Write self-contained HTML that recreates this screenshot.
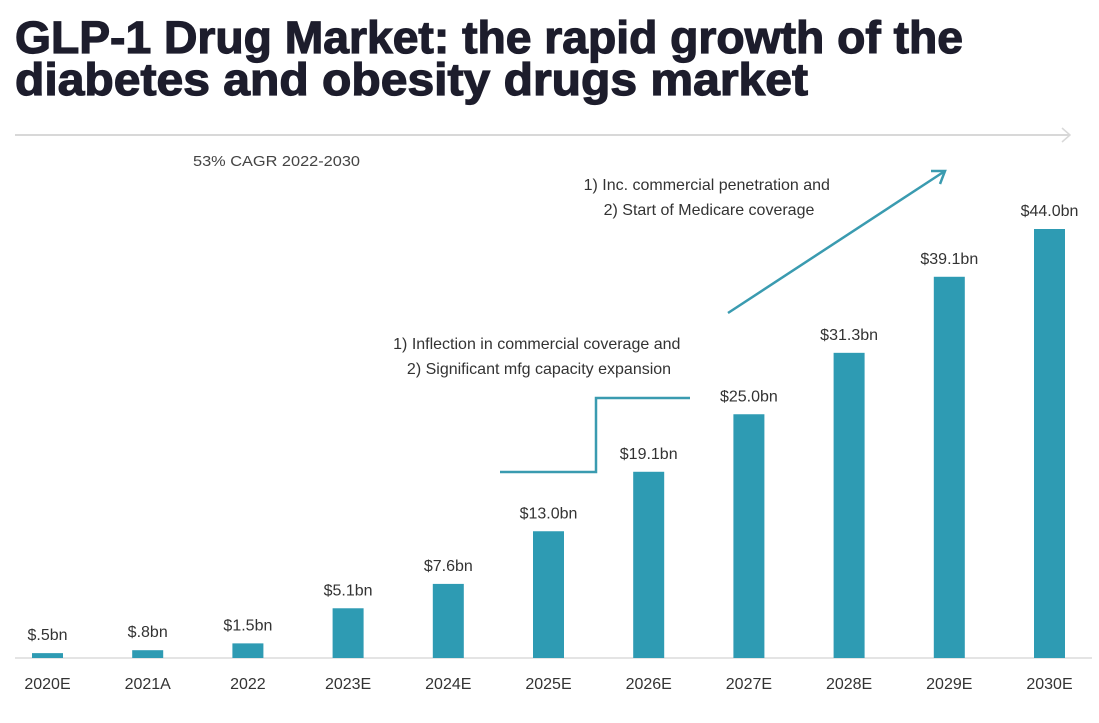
<!DOCTYPE html>
<html><head><meta charset="utf-8"><style>
html,body{margin:0;padding:0;background:#fff;width:1099px;height:723px;overflow:hidden}
svg{display:block}
text{font-family:"Liberation Sans",sans-serif}
</style></head><body>
<svg id="chart" width="1099" height="723" viewBox="0 0 1099 723">
  <text x="15" y="53" font-size="45" font-weight="bold" fill="#1d1d2c" stroke="#1d1d2c" stroke-width="1.2" textLength="948" lengthAdjust="spacingAndGlyphs">GLP-1 Drug Market: the rapid growth of the</text>
  <text x="15" y="95" font-size="45" font-weight="bold" fill="#1d1d2c" stroke="#1d1d2c" stroke-width="1.2" textLength="793" lengthAdjust="spacingAndGlyphs">diabetes and obesity drugs market</text>
  <g>
    <line x1="15" y1="135" x2="1070" y2="135" stroke="#d8d8d8" stroke-width="2"/>
    <polyline points="1062,128 1070,135 1062,142" fill="none" stroke="#d8d8d8" stroke-width="1.5"/>
  </g>
  <text x="193" y="166" font-size="15" fill="#444" textLength="167" lengthAdjust="spacingAndGlyphs">53% CAGR 2022-2030</text>
  <line x1="15" y1="658" x2="1092" y2="658" stroke="#dcdcdc" stroke-width="1.5"/>
  <g id="bars"></g>
  <g>
    <polyline points="500,472 596,472 596,398 690,398" fill="none" stroke="#3a9bb0" stroke-width="2.5"/>
  </g>
  <text text-anchor="middle" font-size="16" fill="#333">
    <tspan x="539" y="349">1) Inflection in commercial coverage and</tspan>
    <tspan x="539" y="374">2) Significant mfg capacity expansion</tspan>
  </text>
  <g>
    <line x1="728" y1="313" x2="945" y2="171" stroke="#3a9bb0" stroke-width="2.5"/>
    <polyline points="931,171 945,171 940,184" fill="none" stroke="#3a9bb0" stroke-width="2.5"/>
  </g>
  <text text-anchor="middle" font-size="16" fill="#333">
    <tspan x="709" y="190">1) Inc. commercial penetration and</tspan>
    <tspan x="709" y="215">2) Start of Medicare coverage</tspan>
  </text>
</svg>
<script>
const categories = ["2020E","2021A","2022","2023E","2024E","2025E","2026E","2027E","2028E","2029E","2030E"];
const values = [0.5,0.8,1.5,5.1,7.6,13.0,19.1,25.0,31.3,39.1,44.0];
const valueLabels = ["$.5bn","$.8bn","$1.5bn","$5.1bn","$7.6bn","$13.0bn","$19.1bn","$25.0bn","$31.3bn","$39.1bn","$44.0bn"];

const NS = "http://www.w3.org/2000/svg";
const baseY = 658, pxPerBn = 9.75, x0 = 47.5, step = 100.2, bw = 31;
const xPos = i => x0 + i * step;
const yPos = v => baseY - v * pxPerBn;
const g = document.getElementById("bars");
categories.forEach((c, i) => {
  const cx = xPos(i), top = yPos(values[i]);
  const r = document.createElementNS(NS, "rect");
  r.setAttribute("x", cx - bw / 2);
  r.setAttribute("y", top);
  r.setAttribute("width", bw);
  r.setAttribute("height", baseY - top);
  r.setAttribute("fill", "#2e9bb3");
  
  
  g.appendChild(r);
  const t = document.createElementNS(NS, "text");
  t.setAttribute("x", cx);
  t.setAttribute("y", top - 13);
  t.setAttribute("text-anchor", "middle");
  t.setAttribute("font-size", "16");
  t.setAttribute("fill", "#333");
  t.textContent = valueLabels[i];
  
  
  g.appendChild(t);
  const xl = document.createElementNS(NS, "text");
  xl.setAttribute("x", cx);
  xl.setAttribute("y", 689);
  xl.setAttribute("text-anchor", "middle");
  xl.setAttribute("font-size", "16");
  xl.setAttribute("fill", "#333");
  xl.textContent = c;
  
  
  g.appendChild(xl);
});
</script>
</body></html>
